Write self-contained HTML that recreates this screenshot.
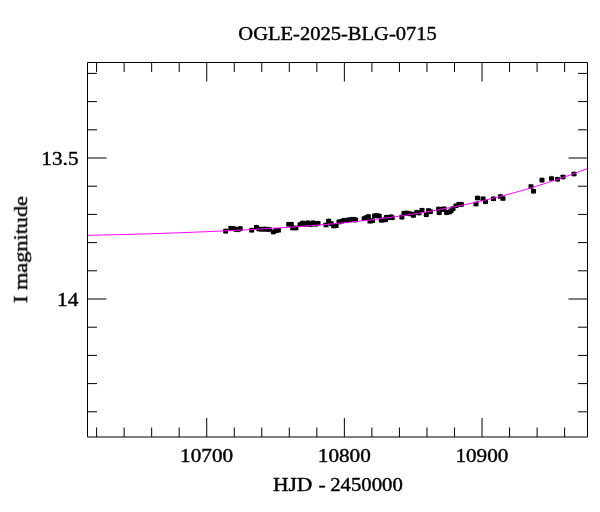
<!DOCTYPE html>
<html><head><meta charset="utf-8"><title>OGLE-2025-BLG-0715</title>
<style>
html,body{margin:0;padding:0;background:#fff;}
body{width:600px;height:512px;overflow:hidden;}
svg{display:block;}
text{font-family:"Liberation Serif",serif;font-size:19.4px;fill:#000;}
</style></head><body>
<svg width="600" height="512" viewBox="0 0 600 512">
<rect width="600" height="512" fill="#fff"/>
<g fill="#000">
<rect x="223.20" y="228.80" width="5.0" height="4.6" rx="0.6"/>
<rect x="225.20" y="228.20" width="1" height="5.8" opacity="0.4"/>
<rect x="228.30" y="226.00" width="5.0" height="4.6" rx="0.6"/>
<rect x="230.30" y="225.40" width="1" height="5.8" opacity="0.4"/>
<rect x="231.00" y="226.20" width="5.0" height="4.6" rx="0.6"/>
<rect x="233.00" y="225.60" width="1" height="5.8" opacity="0.4"/>
<rect x="233.50" y="227.20" width="5.0" height="4.6" rx="0.6"/>
<rect x="235.50" y="226.60" width="1" height="5.8" opacity="0.4"/>
<rect x="235.70" y="227.20" width="5.0" height="4.6" rx="0.6"/>
<rect x="237.70" y="226.60" width="1" height="5.8" opacity="0.4"/>
<rect x="237.70" y="226.30" width="5.0" height="4.6" rx="0.6"/>
<rect x="239.70" y="225.70" width="1" height="5.8" opacity="0.4"/>
<rect x="249.20" y="228.00" width="5.0" height="4.6" rx="0.6"/>
<rect x="251.20" y="227.40" width="1" height="5.8" opacity="0.4"/>
<rect x="253.90" y="225.10" width="5.0" height="4.6" rx="0.6"/>
<rect x="255.90" y="224.50" width="1" height="5.8" opacity="0.4"/>
<rect x="256.50" y="226.70" width="5.0" height="4.6" rx="0.6"/>
<rect x="258.50" y="226.10" width="1" height="5.8" opacity="0.4"/>
<rect x="259.00" y="227.00" width="5.0" height="4.6" rx="0.6"/>
<rect x="261.00" y="226.40" width="1" height="5.8" opacity="0.4"/>
<rect x="262.00" y="226.80" width="5.0" height="4.6" rx="0.6"/>
<rect x="264.00" y="226.20" width="1" height="5.8" opacity="0.4"/>
<rect x="264.50" y="227.00" width="5.0" height="4.6" rx="0.6"/>
<rect x="266.50" y="226.40" width="1" height="5.8" opacity="0.4"/>
<rect x="267.00" y="227.20" width="5.0" height="4.6" rx="0.6"/>
<rect x="269.00" y="226.60" width="1" height="5.8" opacity="0.4"/>
<rect x="270.80" y="229.70" width="5.0" height="4.6" rx="0.6"/>
<rect x="272.80" y="229.10" width="1" height="5.8" opacity="0.4"/>
<rect x="273.50" y="228.30" width="5.0" height="4.6" rx="0.6"/>
<rect x="275.50" y="227.70" width="1" height="5.8" opacity="0.4"/>
<rect x="275.90" y="228.00" width="5.0" height="4.6" rx="0.6"/>
<rect x="277.90" y="227.40" width="1" height="5.8" opacity="0.4"/>
<rect x="286.20" y="222.00" width="5.0" height="4.6" rx="0.6"/>
<rect x="288.20" y="221.40" width="1" height="5.8" opacity="0.4"/>
<rect x="288.80" y="222.10" width="5.0" height="4.6" rx="0.6"/>
<rect x="290.80" y="221.50" width="1" height="5.8" opacity="0.4"/>
<rect x="290.20" y="225.70" width="5.0" height="4.6" rx="0.6"/>
<rect x="292.20" y="225.10" width="1" height="5.8" opacity="0.4"/>
<rect x="293.40" y="225.70" width="5.0" height="4.6" rx="0.6"/>
<rect x="295.40" y="225.10" width="1" height="5.8" opacity="0.4"/>
<rect x="297.50" y="222.30" width="5.0" height="4.6" rx="0.6"/>
<rect x="299.50" y="221.70" width="1" height="5.8" opacity="0.4"/>
<rect x="300.10" y="220.70" width="5.0" height="4.6" rx="0.6"/>
<rect x="302.10" y="220.10" width="1" height="5.8" opacity="0.4"/>
<rect x="302.70" y="222.20" width="5.0" height="4.6" rx="0.6"/>
<rect x="304.70" y="221.60" width="1" height="5.8" opacity="0.4"/>
<rect x="305.30" y="220.50" width="5.0" height="4.6" rx="0.6"/>
<rect x="307.30" y="219.90" width="1" height="5.8" opacity="0.4"/>
<rect x="307.90" y="222.30" width="5.0" height="4.6" rx="0.6"/>
<rect x="309.90" y="221.70" width="1" height="5.8" opacity="0.4"/>
<rect x="310.50" y="220.60" width="5.0" height="4.6" rx="0.6"/>
<rect x="312.50" y="220.00" width="1" height="5.8" opacity="0.4"/>
<rect x="313.10" y="221.90" width="5.0" height="4.6" rx="0.6"/>
<rect x="315.10" y="221.30" width="1" height="5.8" opacity="0.4"/>
<rect x="315.50" y="221.00" width="5.0" height="4.6" rx="0.6"/>
<rect x="317.50" y="220.40" width="1" height="5.8" opacity="0.4"/>
<rect x="323.50" y="222.70" width="5.0" height="4.6" rx="0.6"/>
<rect x="325.50" y="222.10" width="1" height="5.8" opacity="0.4"/>
<rect x="326.10" y="218.70" width="5.0" height="4.6" rx="0.6"/>
<rect x="328.10" y="218.10" width="1" height="5.8" opacity="0.4"/>
<rect x="328.70" y="221.30" width="5.0" height="4.6" rx="0.6"/>
<rect x="330.70" y="220.70" width="1" height="5.8" opacity="0.4"/>
<rect x="331.10" y="223.70" width="5.0" height="4.6" rx="0.6"/>
<rect x="333.10" y="223.10" width="1" height="5.8" opacity="0.4"/>
<rect x="333.60" y="223.50" width="5.0" height="4.6" rx="0.6"/>
<rect x="335.60" y="222.90" width="1" height="5.8" opacity="0.4"/>
<rect x="336.50" y="219.60" width="5.0" height="4.6" rx="0.6"/>
<rect x="338.50" y="219.00" width="1" height="5.8" opacity="0.4"/>
<rect x="339.00" y="218.90" width="5.0" height="4.6" rx="0.6"/>
<rect x="341.00" y="218.30" width="1" height="5.8" opacity="0.4"/>
<rect x="341.50" y="218.10" width="5.0" height="4.6" rx="0.6"/>
<rect x="343.50" y="217.50" width="1" height="5.8" opacity="0.4"/>
<rect x="344.00" y="218.30" width="5.0" height="4.6" rx="0.6"/>
<rect x="346.00" y="217.70" width="1" height="5.8" opacity="0.4"/>
<rect x="346.50" y="217.50" width="5.0" height="4.6" rx="0.6"/>
<rect x="348.50" y="216.90" width="1" height="5.8" opacity="0.4"/>
<rect x="349.00" y="217.30" width="5.0" height="4.6" rx="0.6"/>
<rect x="351.00" y="216.70" width="1" height="5.8" opacity="0.4"/>
<rect x="351.50" y="217.00" width="5.0" height="4.6" rx="0.6"/>
<rect x="353.50" y="216.40" width="1" height="5.8" opacity="0.4"/>
<rect x="353.10" y="217.70" width="5.0" height="4.6" rx="0.6"/>
<rect x="355.10" y="217.10" width="1" height="5.8" opacity="0.4"/>
<rect x="361.70" y="216.20" width="5.0" height="4.6" rx="0.6"/>
<rect x="363.70" y="215.60" width="1" height="5.8" opacity="0.4"/>
<rect x="364.10" y="215.30" width="5.0" height="4.6" rx="0.6"/>
<rect x="366.10" y="214.70" width="1" height="5.8" opacity="0.4"/>
<rect x="365.90" y="214.30" width="5.0" height="4.6" rx="0.6"/>
<rect x="367.90" y="213.70" width="1" height="5.8" opacity="0.4"/>
<rect x="367.50" y="218.90" width="5.0" height="4.6" rx="0.6"/>
<rect x="369.50" y="218.30" width="1" height="5.8" opacity="0.4"/>
<rect x="370.00" y="218.30" width="5.0" height="4.6" rx="0.6"/>
<rect x="372.00" y="217.70" width="1" height="5.8" opacity="0.4"/>
<rect x="372.10" y="213.50" width="5.0" height="4.6" rx="0.6"/>
<rect x="374.10" y="212.90" width="1" height="5.8" opacity="0.4"/>
<rect x="374.30" y="213.30" width="5.0" height="4.6" rx="0.6"/>
<rect x="376.30" y="212.70" width="1" height="5.8" opacity="0.4"/>
<rect x="376.70" y="213.70" width="5.0" height="4.6" rx="0.6"/>
<rect x="378.70" y="213.10" width="1" height="5.8" opacity="0.4"/>
<rect x="378.70" y="217.90" width="5.0" height="4.6" rx="0.6"/>
<rect x="380.70" y="217.30" width="1" height="5.8" opacity="0.4"/>
<rect x="380.90" y="217.70" width="5.0" height="4.6" rx="0.6"/>
<rect x="382.90" y="217.10" width="1" height="5.8" opacity="0.4"/>
<rect x="383.00" y="217.30" width="5.0" height="4.6" rx="0.6"/>
<rect x="385.00" y="216.70" width="1" height="5.8" opacity="0.4"/>
<rect x="384.00" y="214.90" width="5.0" height="4.6" rx="0.6"/>
<rect x="386.00" y="214.30" width="1" height="5.8" opacity="0.4"/>
<rect x="386.50" y="215.50" width="5.0" height="4.6" rx="0.6"/>
<rect x="388.50" y="214.90" width="1" height="5.8" opacity="0.4"/>
<rect x="388.50" y="214.50" width="5.0" height="4.6" rx="0.6"/>
<rect x="390.50" y="213.90" width="1" height="5.8" opacity="0.4"/>
<rect x="389.70" y="215.50" width="5.0" height="4.6" rx="0.6"/>
<rect x="391.70" y="214.90" width="1" height="5.8" opacity="0.4"/>
<rect x="399.40" y="214.80" width="5.0" height="4.6" rx="0.6"/>
<rect x="401.40" y="214.20" width="1" height="5.8" opacity="0.4"/>
<rect x="401.50" y="210.90" width="5.0" height="4.6" rx="0.6"/>
<rect x="403.50" y="210.30" width="1" height="5.8" opacity="0.4"/>
<rect x="404.00" y="210.70" width="5.0" height="4.6" rx="0.6"/>
<rect x="406.00" y="210.10" width="1" height="5.8" opacity="0.4"/>
<rect x="406.50" y="211.30" width="5.0" height="4.6" rx="0.6"/>
<rect x="408.50" y="210.70" width="1" height="5.8" opacity="0.4"/>
<rect x="409.00" y="211.70" width="5.0" height="4.6" rx="0.6"/>
<rect x="411.00" y="211.10" width="1" height="5.8" opacity="0.4"/>
<rect x="410.90" y="213.10" width="5.0" height="4.6" rx="0.6"/>
<rect x="412.90" y="212.50" width="1" height="5.8" opacity="0.4"/>
<rect x="414.20" y="209.90" width="5.0" height="4.6" rx="0.6"/>
<rect x="416.20" y="209.30" width="1" height="5.8" opacity="0.4"/>
<rect x="416.50" y="210.70" width="5.0" height="4.6" rx="0.6"/>
<rect x="418.50" y="210.10" width="1" height="5.8" opacity="0.4"/>
<rect x="419.50" y="207.90" width="5.0" height="4.6" rx="0.6"/>
<rect x="421.50" y="207.30" width="1" height="5.8" opacity="0.4"/>
<rect x="423.80" y="212.30" width="5.0" height="4.6" rx="0.6"/>
<rect x="425.80" y="211.70" width="1" height="5.8" opacity="0.4"/>
<rect x="426.00" y="208.30" width="5.0" height="4.6" rx="0.6"/>
<rect x="428.00" y="207.70" width="1" height="5.8" opacity="0.4"/>
<rect x="427.90" y="209.30" width="5.0" height="4.6" rx="0.6"/>
<rect x="429.90" y="208.70" width="1" height="5.8" opacity="0.4"/>
<rect x="436.10" y="206.70" width="5.0" height="4.6" rx="0.6"/>
<rect x="438.10" y="206.10" width="1" height="5.8" opacity="0.4"/>
<rect x="436.70" y="210.30" width="5.0" height="4.6" rx="0.6"/>
<rect x="438.70" y="209.70" width="1" height="5.8" opacity="0.4"/>
<rect x="439.00" y="207.30" width="5.0" height="4.6" rx="0.6"/>
<rect x="441.00" y="206.70" width="1" height="5.8" opacity="0.4"/>
<rect x="441.50" y="206.60" width="5.0" height="4.6" rx="0.6"/>
<rect x="443.50" y="206.00" width="1" height="5.8" opacity="0.4"/>
<rect x="444.10" y="210.30" width="5.0" height="4.6" rx="0.6"/>
<rect x="446.10" y="209.70" width="1" height="5.8" opacity="0.4"/>
<rect x="447.10" y="209.70" width="5.0" height="4.6" rx="0.6"/>
<rect x="449.10" y="209.10" width="1" height="5.8" opacity="0.4"/>
<rect x="448.50" y="208.50" width="5.0" height="4.6" rx="0.6"/>
<rect x="450.50" y="207.90" width="1" height="5.8" opacity="0.4"/>
<rect x="450.50" y="206.30" width="5.0" height="4.6" rx="0.6"/>
<rect x="452.50" y="205.70" width="1" height="5.8" opacity="0.4"/>
<rect x="453.50" y="203.50" width="5.0" height="4.6" rx="0.6"/>
<rect x="455.50" y="202.90" width="1" height="5.8" opacity="0.4"/>
<rect x="456.50" y="201.90" width="5.0" height="4.6" rx="0.6"/>
<rect x="458.50" y="201.30" width="1" height="5.8" opacity="0.4"/>
<rect x="458.90" y="202.10" width="5.0" height="4.6" rx="0.6"/>
<rect x="460.90" y="201.50" width="1" height="5.8" opacity="0.4"/>
<rect x="473.50" y="201.70" width="5.0" height="4.6" rx="0.6"/>
<rect x="475.50" y="201.10" width="1" height="5.8" opacity="0.4"/>
<rect x="475.00" y="195.70" width="5.0" height="4.6" rx="0.6"/>
<rect x="477.00" y="195.10" width="1" height="5.8" opacity="0.4"/>
<rect x="480.50" y="196.50" width="5.0" height="4.6" rx="0.6"/>
<rect x="482.50" y="195.90" width="1" height="5.8" opacity="0.4"/>
<rect x="483.00" y="199.40" width="5.0" height="4.6" rx="0.6"/>
<rect x="485.00" y="198.80" width="1" height="5.8" opacity="0.4"/>
<rect x="491.00" y="196.40" width="5.0" height="4.6" rx="0.6"/>
<rect x="493.00" y="195.80" width="1" height="5.8" opacity="0.4"/>
<rect x="498.00" y="194.20" width="5.0" height="4.6" rx="0.6"/>
<rect x="500.00" y="193.60" width="1" height="5.8" opacity="0.4"/>
<rect x="500.50" y="196.20" width="5.0" height="4.6" rx="0.6"/>
<rect x="502.50" y="195.60" width="1" height="5.8" opacity="0.4"/>
<rect x="528.50" y="184.20" width="5.0" height="4.6" rx="0.6"/>
<rect x="530.50" y="183.60" width="1" height="5.8" opacity="0.4"/>
<rect x="531.00" y="189.00" width="5.0" height="4.6" rx="0.6"/>
<rect x="533.00" y="188.40" width="1" height="5.8" opacity="0.4"/>
<rect x="539.50" y="177.80" width="5.0" height="4.6" rx="0.6"/>
<rect x="541.50" y="177.20" width="1" height="5.8" opacity="0.4"/>
<rect x="549.00" y="176.20" width="5.0" height="4.6" rx="0.6"/>
<rect x="551.00" y="175.60" width="1" height="5.8" opacity="0.4"/>
<rect x="555.00" y="177.00" width="5.0" height="4.6" rx="0.6"/>
<rect x="557.00" y="176.40" width="1" height="5.8" opacity="0.4"/>
<rect x="560.50" y="174.70" width="5.0" height="4.6" rx="0.6"/>
<rect x="562.50" y="174.10" width="1" height="5.8" opacity="0.4"/>
<rect x="571.50" y="171.70" width="5.0" height="4.6" rx="0.6"/>
<rect x="573.50" y="171.10" width="1" height="5.8" opacity="0.4"/>
</g>
<path d="M87.5,235.27 L91.5,235.20 L95.5,235.13 L99.5,235.06 L103.5,234.98 L107.5,234.89 L111.5,234.80 L115.5,234.71 L119.5,234.61 L123.5,234.51 L127.5,234.41 L131.5,234.30 L135.5,234.19 L139.5,234.07 L143.5,233.95 L147.5,233.83 L151.5,233.70 L155.5,233.57 L159.5,233.44 L163.5,233.31 L167.5,233.17 L171.5,233.03 L175.5,232.89 L179.5,232.74 L183.5,232.59 L187.5,232.44 L191.5,232.28 L195.5,232.12 L199.5,231.96 L203.5,231.80 L207.5,231.63 L211.5,231.46 L215.5,231.28 L219.5,231.10 L223.5,230.92 L227.5,230.74 L231.5,230.55 L235.5,230.35 L239.5,230.15 L243.5,229.95 L247.5,229.74 L251.5,229.53 L255.5,229.31 L259.5,229.09 L263.5,228.86 L267.5,228.63 L271.5,228.39 L275.5,228.14 L279.5,227.89 L283.5,227.63 L287.5,227.36 L291.5,227.09 L295.5,226.81 L299.5,226.53 L303.5,226.23 L307.5,225.93 L311.5,225.62 L315.5,225.30 L319.5,224.97 L323.5,224.63 L327.5,224.28 L331.5,223.93 L335.5,223.56 L339.5,223.18 L343.5,222.80 L347.5,222.40 L351.5,221.99 L355.5,221.57 L359.5,221.14 L363.5,220.69 L367.5,220.23 L371.5,219.77 L375.5,219.28 L379.5,218.79 L383.5,218.28 L387.5,217.76 L391.5,217.22 L395.5,216.67 L399.5,216.10 L403.5,215.52 L407.5,214.92 L411.5,214.31 L415.5,213.68 L419.5,213.04 L423.5,212.38 L427.5,211.70 L431.5,211.01 L435.5,210.29 L439.5,209.57 L443.5,208.83 L447.5,208.08 L451.5,207.31 L455.5,206.52 L459.5,205.72 L463.5,204.89 L467.5,204.05 L471.5,203.18 L475.5,202.30 L479.5,201.39 L483.5,200.47 L487.5,199.52 L491.5,198.56 L495.5,197.57 L499.5,196.56 L503.5,195.53 L507.5,194.48 L511.5,193.40 L515.5,192.31 L519.5,191.19 L523.5,190.04 L527.5,188.86 L531.5,187.66 L535.5,186.44 L539.5,185.19 L543.5,183.93 L547.5,182.64 L551.5,181.32 L555.5,179.98 L559.5,178.62 L563.5,177.24 L567.5,175.83 L571.5,174.40 L575.5,172.95 L579.5,171.47 L583.5,169.97 L587.5,168.44" fill="none" stroke="#ff00ff" stroke-width="1.0"/>
<path d="M87.5,62.5H587.5V437.0H87.5Z" fill="none" stroke="#000" stroke-width="1"/>
<path d="M96.60,437.0v-9.5 M96.60,62.5v9.5 M124.13,437.0v-9.5 M124.13,62.5v9.5 M151.66,437.0v-9.5 M151.66,62.5v9.5 M179.19,437.0v-9.5 M179.19,62.5v9.5 M206.72,437.0v-19.0 M206.72,62.5v19.0 M234.25,437.0v-9.5 M234.25,62.5v9.5 M261.78,437.0v-9.5 M261.78,62.5v9.5 M289.31,437.0v-9.5 M289.31,62.5v9.5 M316.84,437.0v-9.5 M316.84,62.5v9.5 M344.37,437.0v-19.0 M344.37,62.5v19.0 M371.90,437.0v-9.5 M371.90,62.5v9.5 M399.43,437.0v-9.5 M399.43,62.5v9.5 M426.96,437.0v-9.5 M426.96,62.5v9.5 M454.49,437.0v-9.5 M454.49,62.5v9.5 M482.02,437.0v-19.0 M482.02,62.5v19.0 M509.55,437.0v-9.5 M509.55,62.5v9.5 M537.08,437.0v-9.5 M537.08,62.5v9.5 M564.61,437.0v-9.5 M564.61,62.5v9.5 M87.5,73.40h9.5 M587.5,73.40h-9.5 M87.5,101.60h9.5 M587.5,101.60h-9.5 M87.5,129.80h9.5 M587.5,129.80h-9.5 M87.5,158.00h19.0 M587.5,158.00h-19.0 M87.5,186.20h9.5 M587.5,186.20h-9.5 M87.5,214.40h9.5 M587.5,214.40h-9.5 M87.5,242.60h9.5 M587.5,242.60h-9.5 M87.5,270.80h9.5 M587.5,270.80h-9.5 M87.5,299.00h19.0 M587.5,299.00h-19.0 M87.5,327.20h9.5 M587.5,327.20h-9.5 M87.5,355.40h9.5 M587.5,355.40h-9.5 M87.5,383.60h9.5 M587.5,383.60h-9.5 M87.5,411.80h9.5 M587.5,411.80h-9.5" fill="none" stroke="#000" stroke-width="1"/>
<g stroke="#000" stroke-width="0.42" stroke-linejoin="round" opacity="0.999">
<text x="337.6" y="40.3" style="font-size:19.8px" text-anchor="middle" textLength="198.5" lengthAdjust="spacingAndGlyphs">OGLE-2025-BLG-0715</text>
<text y="491.2" lengthAdjust="spacingAndGlyphs"><tspan x="272.9" textLength="39.4" lengthAdjust="spacingAndGlyphs">HJD</tspan><tspan> </tspan><tspan x="318.4" textLength="7.2" lengthAdjust="spacingAndGlyphs">-</tspan><tspan> </tspan><tspan x="330.2" textLength="72.6" lengthAdjust="spacingAndGlyphs">2450000</tspan></text>
<text x="206.6" y="462.2" text-anchor="middle" textLength="53" lengthAdjust="spacingAndGlyphs">10700</text>
<text x="344.3" y="462.2" text-anchor="middle" textLength="53" lengthAdjust="spacingAndGlyphs">10800</text>
<text x="481.9" y="462.2" text-anchor="middle" textLength="53" lengthAdjust="spacingAndGlyphs">10900</text>
<text x="78.6" y="164.9" text-anchor="end" textLength="37.3" lengthAdjust="spacingAndGlyphs">13.5</text>
<text x="78.6" y="305.6" text-anchor="end" textLength="21.5" lengthAdjust="spacingAndGlyphs">14</text>
<text transform="translate(27.1,249.5) rotate(-90)" text-anchor="middle" textLength="107" lengthAdjust="spacingAndGlyphs">I magnitude</text>
</g>
</svg>
</body></html>
